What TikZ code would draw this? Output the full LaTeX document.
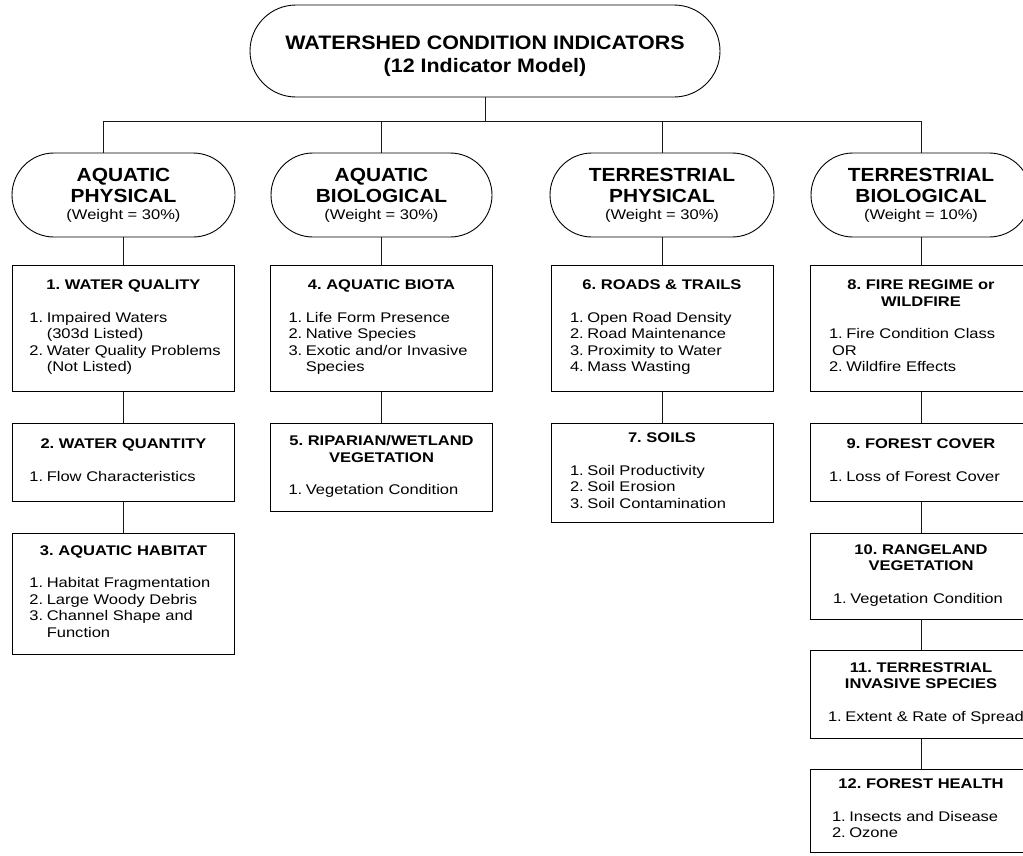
\documentclass[tikz,border=0pt]{standalone}
\usepackage{fontspec}
\setmainfont{Liberation Sans}[FakeStretch=1.18]
\newfontfamily\headfont{Liberation Sans}[FakeStretch=1.1]
\usetikzlibrary{shapes.misc}
\frenchspacing
\newcommand{\wt}[1]{{\normalfont\fontsize{14}{16}\selectfont(Weight = #1\%)}}
\newcommand{\ibody}[3][18pt]{{\centering\bfseries #2\par}\vspace{16pt}%
  \noindent\hspace*{#1}\begin{tabular}[t]{@{}l@{\hspace{3.5pt}}l@{}}#3\end{tabular}}
\tikzset{
  oval/.style={draw, rounded rectangle, inner sep=0pt, align=center,
    font=\headfont\bfseries\fontsize{19}{21}\selectfont},
  ibox/.style={draw, rectangle, inner xsep=0pt, inner ysep=0pt, text width=222pt,
    minimum width=222pt, anchor=north, font=\fontsize{14}{16.5}\selectfont},
  link/.style={draw=black!90, line width=0.9pt}
}

\begin{document}
\begin{tikzpicture}[x=1pt,y=-1pt,line width=0.9pt]
\useasboundingbox (0,0) rectangle (1023,855);
\clip (0,0) rectangle (1023,855);
%top
\node[oval, minimum width=470pt, minimum height=92pt, font=\headfont\bfseries\fontsize{19.5}{23}\selectfont]
  (wci) at (485,51) {\rule{0pt}{24pt}WATERSHED CONDITION INDICATORS\\(12 Indicator Model)};
%categories
\node[oval, minimum width=223pt, minimum height=84pt] (aphys) at (123.5,195) {AQUATIC\\PHYSICAL\\[-4pt]\wt{30}};
\node[oval, minimum width=221pt, minimum height=84pt] (abio) at (381.5,195) {AQUATIC\\BIOLOGICAL\\[-4pt]\wt{30}};
\node[oval, minimum width=224pt, minimum height=84pt] (tphys) at (662,195) {TERRESTRIAL\\PHYSICAL\\[-4pt]\wt{30}};
\node[oval, minimum width=220pt, minimum height=84pt] (tbio) at (921,195) {TERRESTRIAL\\BIOLOGICAL\\[-4pt]\wt{10}};
\coordinate (busL) at (103,121);
\coordinate (busR) at (921,121);
\draw[link] (wci.south) -- (wci.south |- busL);
\draw[link] (aphys.north -| busL) |- (busR) -- (tbio.north);
\draw[link] (abio.north) -- (abio.north |- busL);
\draw[link] (tphys.north) -- (tphys.north |- busL);
%aquatic physical
\node[ibox, minimum height=126pt] (wq) at (123.5,265) {\ibody[17pt]{1. WATER QUALITY}{1.&Impaired Waters\\&(303d Listed)\\2.&Water Quality Problems\\&(Not Listed)}};
\node[ibox, minimum height=78pt] (wqn) at (123.5,423) {\ibody[17pt]{2. WATER QUANTITY}{1.&Flow Characteristics}};
\node[ibox, minimum height=121pt] (hab) at (123.5,533) {\ibody[17pt]{3. AQUATIC HABITAT}{1.&Habitat Fragmentation\\2.&Large Woody Debris\\3.&Channel Shape and\\&Function}};
%aquatic biological
\node[ibox, minimum height=126pt] (biota) at (381.5,265) {\ibody{4. AQUATIC BIOTA}{1.&Life Form Presence\\2.&Native Species\\3.&Exotic and/or Invasive\\&Species}};
\node[ibox, minimum height=88pt] (rip) at (381.5,423) {\ibody{5. RIPARIAN/WETLAND\\VEGETATION}{1.&Vegetation Condition}};
%terrestrial physical
\node[ibox, minimum height=126pt] (roads) at (662,265) {\ibody[19pt]{6. ROADS \& TRAILS}{1.&Open Road Density\\2.&Road Maintenance\\3.&Proximity to Water\\4.&Mass Wasting}};
\node[ibox, minimum height=99pt] (soils) at (662,423) {\ibody[19pt]{7. SOILS}{1.&Soil Productivity\\2.&Soil Erosion\\3.&Soil Contamination}};
%terrestrial biological
\node[ibox, minimum height=126pt] (fire) at (921,265) {\ibody[19pt]{8. FIRE REGIME or\\WILDFIRE}{1.&Fire Condition Class\\\multicolumn{2}{@{}l@{}}{\hspace{3pt}OR}\\2.&Wildfire Effects}};
\node[ibox, minimum height=78pt] (fcov) at (921,423) {\ibody[19pt]{9. FOREST COVER}{1.&Loss of Forest Cover}};
\node[ibox, minimum height=86pt] (range) at (921,533) {\ibody[23pt]{10. RANGELAND\\VEGETATION}{1.&Vegetation Condition}};
\node[ibox, minimum height=88pt] (inv) at (921,650) {\ibody[18pt]{11. TERRESTRIAL\\INVASIVE SPECIES}{1.&Extent \& Rate of Spread}};
\node[ibox, minimum height=83pt] (health) at (921,769) {\ibody[22pt]{12. FOREST HEALTH}{1.&Insects and Disease\\2.&Ozone}};
\foreach \a/\b in {aphys/wq, wq/wqn, wqn/hab, abio/biota, biota/rip, tphys/roads,
  roads/soils, tbio/fire, fire/fcov, fcov/range, range/inv, inv/health}
  \draw[link] (\a.south) -- (\b.north);
\end{tikzpicture}
\end{document}
